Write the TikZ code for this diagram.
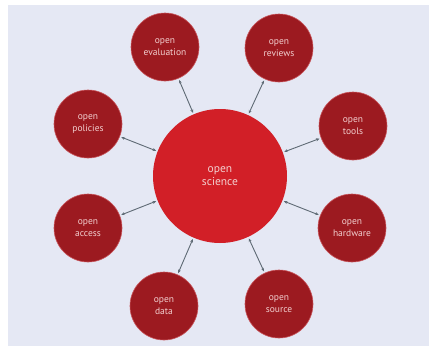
\documentclass[tikz,border=0pt]{standalone}
\usepackage{fontspec}
\setmainfont{PT Sans}
\usetikzlibrary{arrows.meta}
\definecolor{bg}{HTML}{E5E8F4}
\definecolor{darkred}{HTML}{9C1A20}
\definecolor{rim}{HTML}{C8545A}
\definecolor{bigred}{HTML}{D21F27}
\definecolor{txt}{HTML}{F2CFCF}
\definecolor{arr}{HTML}{5E6A74}
\begin{document}
\begin{tikzpicture}[x=1pt,y=-1pt,
  small/.style={circle,fill=darkred,draw=rim,line width=0.6pt,minimum size=68pt,inner sep=0pt,
    text=txt,align=center,font=\fontsize{9.5}{12.5}\selectfont},
  big/.style={circle,fill=bigred,minimum size=134pt,inner sep=0pt,
    text=txt,align=center,font=\fontsize{11.5}{13}\selectfont},
  link/.style={arr,line width=0.9pt,{Stealth[length=3.5pt,width=3pt]}-{Stealth[length=3.5pt,width=3pt]},shorten <=1.5pt,shorten >=1.5pt}]
\useasboundingbox (0,0) rectangle (429,348);
\fill[white] (0,0) rectangle (429,348);
\fill[bg] (8,5) rectangle (429,346);
\node[big] (sci) at (220,176) {open\\science};
\node[small] (eval) at (165,47) {open\\evaluation};
\node[small] (rev) at (279,48) {open\\reviews};
\node[small] (pol) at (88,124) {open\\policies};
\node[small] (tools) at (353,126) {open\\tools};
\node[small] (acc) at (88,228) {open\\access};
\node[small] (hw) at (352,228) {open\\hardware};
\node[small] (data) at (164,306) {open\\data};
\node[small] (src) at (279,304) {open\\source};
\foreach \n in {eval,rev,pol,tools,acc,hw,data,src}
  \draw[link] (sci) -- (\n);
\end{tikzpicture}
\end{document}
